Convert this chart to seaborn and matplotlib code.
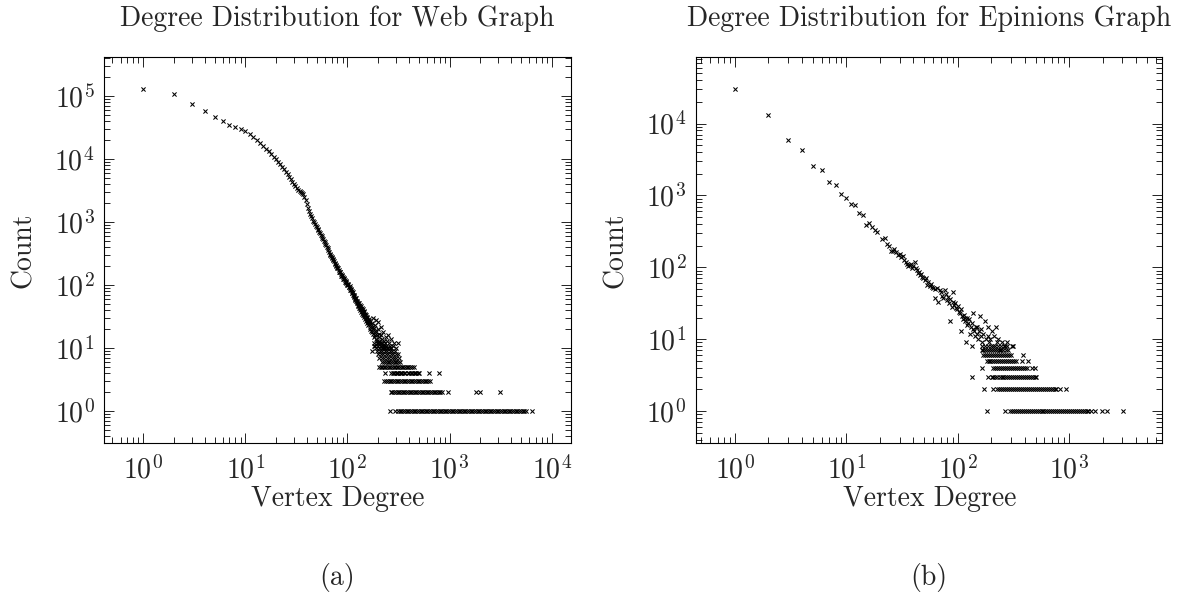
import numpy as np
import pandas as pd
import matplotlib
matplotlib.use("Agg")
import matplotlib.pyplot as plt
from matplotlib.ticker import LogLocator, LogFormatterMathtext, NullFormatter
import seaborn as sns

# --- Web graph: degree -> count ---
web_head_deg = [1, 2, 3, 4, 5, 6, 7, 8, 9, 10, 11, 12, 13, 14, 15, 16]
web_head_cnt = [131000, 110000, 74700, 57800, 47600, 40100, 34700, 32700,
                30400, 27600, 25300, 22700, 20400, 18200, 16500, 14800]

web_curve_deg = [17, 18, 19, 20, 21, 22, 23, 24, 25, 26, 27, 28, 29, 30, 31, 32,
                 33, 34, 35, 36, 37, 38, 39, 40, 41, 42, 43, 44, 45, 46, 47, 48,
                 49, 50, 51, 52, 53, 54, 55, 56, 57, 58, 59, 60, 61, 62, 63, 64,
                 65, 66, 67, 68, 69, 70, 71, 72, 73, 74, 75, 76, 77, 78, 79, 80,
                 82, 84, 86, 88, 90, 92, 94, 96, 98, 100, 102, 104, 106, 108, 110,
                 112, 114, 116, 118, 120, 122, 124, 126, 128, 130, 133, 136, 139,
                 142, 145, 148, 151, 155, 159]
web_curve_cnt = [13300, 12000, 10900, 10100, 9200, 8300, 7600, 6900, 6250, 5750,
                 5250, 4850, 4400, 4050, 3750, 3480, 3250, 3100, 2980, 2900, 2780,
                 2500, 2230, 1920, 1670, 1490, 1370, 1240, 1150, 1060, 990, 940,
                 880, 835, 790, 745, 705, 665, 630, 600, 565, 540, 510, 480, 455,
                 428, 410, 385, 360, 342, 318, 305, 292, 280, 268, 258, 250, 238,
                 229, 218, 210, 203, 196, 188, 172, 160, 151, 141, 134, 127, 120,
                 114, 109, 103, 99, 94, 89, 84, 80, 75, 71, 68, 63, 60, 57, 54, 52,
                 49, 47, 44, 42, 39, 37, 34, 33, 31, 28, 26]

web_spread_deg = [81, 83, 85, 87, 89, 91, 93, 95, 97, 99, 101, 103, 105, 107, 109,
                  111, 113, 115, 117, 119, 121, 123, 125, 127, 129, 131, 132, 134,
                  135, 137, 138, 140, 141, 143, 144, 146, 147, 149, 150, 152, 153,
                  154, 156, 157, 158, 160]
web_spread_cnt = [186, 160, 162, 140, 143, 126, 128, 113, 116, 101, 106, 92, 96,
                  83, 86, 74, 78, 66, 71, 58, 63, 52, 57, 47, 52, 43, 49, 40, 46,
                  38, 44, 35, 42, 33, 39, 31, 37, 29, 35, 27, 33, 30, 25, 31, 27, 23]

web_tail_deg = [161, 162, 164, 165, 167, 168, 170, 171, 173, 175, 176, 178, 180,
                181, 183, 185, 186, 188, 190, 192, 194, 196, 198, 200, 202, 204,
                206, 209, 211, 214, 217, 220, 223, 226, 229, 232, 236, 240, 245,
                250, 256, 262, 270, 285, 200, 190, 180, 212, 225, 238, 250, 265,
                280, 300, 310, 176, 181]
web_tail_cnt = [29, 24, 27, 22, 26, 20, 24, 19, 22, 18, 25, 20, 17, 21, 15, 19,
                23, 16, 14, 18, 13, 16, 20, 12, 15, 17, 13, 12, 16, 11, 14, 12, 10,
                13, 11, 12, 10, 11, 13, 10, 12, 11, 10, 12, 26, 28, 30, 22, 18, 15,
                16, 14, 11, 10, 12, 9, 11]

# low-count rows of the web graph (all points share one count)
web_row12 = [184, 196, 208, 220]
web_row11 = [188, 199, 211, 224, 238]
web_row10 = [192, 204, 216, 229, 243, 262]
web_row9 = [196, 208, 220, 233, 246, 260, 275, 292]
web_row8 = [200, 212, 225, 238, 252, 266, 281, 297, 313]
web_row7 = [206, 218, 230, 243, 257, 271, 286, 302, 318]
web_row6 = [220, 229, 238, 248, 258, 268, 279, 290, 302, 315, 330]
web_row5 = [205, 212, 220, 228, 236, 245, 254, 263, 273, 283, 294, 305, 316,
            328, 340, 353, 366, 380, 395, 410, 427, 445]
web_row4 = [232, 270, 278, 287, 296, 305, 315, 325, 335, 345, 355, 364, 392,
            405, 418, 432, 446, 460, 475, 490, 500, 633, 785]
web_row3 = [230, 240, 250, 260, 270, 281, 292, 304, 316, 329, 342, 356, 370,
            385, 400, 416, 433, 450, 468, 487, 506, 526, 547, 569, 592, 616, 640]
web_row2 = [265, 276, 287, 298, 310, 322, 335, 348, 362, 376, 391, 406, 422,
            439, 456, 474, 493, 512, 532, 553, 575, 598, 621, 645, 670, 697,
            724, 752, 782, 812, 844, 960, 1820, 1980, 3150]
web_row1 = [260, 293, 312, 325, 338, 352, 366, 381, 396, 412, 428, 445, 463,
            481, 500, 520, 541, 562, 585, 608, 632, 657, 683, 710, 738, 768,
            798, 830, 863, 897, 933, 970, 1009, 1049, 1091, 1134, 1179, 1226,
            1275, 1326, 1379, 1434, 1491, 1550, 1612, 1676, 1743, 1812, 1884,
            1959, 2037, 2118, 2202, 2290, 2381, 2476, 2574, 2676, 2783, 2893,
            3008, 3128, 3252, 3381, 3515, 3655, 3800, 3951, 4108, 4271, 4441,
            4617, 4800, 4991, 5189, 5395, 5600, 6400]

# --- Epinions graph ---
epi_head_deg = [1, 2, 3, 4, 5, 6, 7, 8, 9, 10, 11, 12, 13, 14, 15, 16]
epi_head_cnt = [30300, 13300, 5970, 4240, 2590, 2280, 1540, 1410, 1030, 908,
                766, 742, 561, 533, 387, 417]

epi_mid_deg = [17, 18, 19, 21, 22, 23, 25, 26, 28, 29, 31, 32, 24, 27, 30, 33,
               34, 36, 37, 39, 40, 41, 43, 35, 38, 42, 44, 45, 46, 47, 48, 49,
               51, 52, 53, 54, 56, 58, 59, 60, 62, 63, 65, 67, 69, 70, 72, 74,
               77, 78, 80, 82, 84, 85, 86, 88, 90, 91, 93, 94, 96, 98, 100, 102,
               105, 107, 108, 110, 111, 113, 115, 117, 119, 120, 122, 124, 126,
               129, 131, 133, 134, 136, 138, 140, 143, 145, 148, 150, 153, 155,
               158, 160, 162, 166, 170, 175, 178, 185, 188, 192, 195, 201, 208,
               212, 220, 223, 230, 239, 248, 265, 275, 305]
epi_mid_cnt = [363, 326, 305, 247, 252, 214, 171, 166, 163, 149, 141, 145, 198,
               180, 155, 128, 120, 103, 108, 97, 103, 117, 92, 112, 110, 99, 84,
               87, 79, 82, 74, 70, 67, 71, 57, 63, 55, 58, 54, 51, 50, 38, 51, 33,
               49, 45, 40, 37, 49, 42, 35, 39, 32, 18, 36, 28, 33, 46, 30, 32, 27,
               26, 29, 24, 23, 26, 13, 21, 19, 22, 20, 18, 9, 20, 16, 17, 19, 12,
               15, 8, 17, 14, 23, 13, 11, 15, 15, 12, 10, 13, 21, 11, 14, 9, 12,
               18, 10, 15, 11, 9, 10, 13, 8, 11, 15, 9, 10, 7, 9, 8, 9, 8]

epi_row8 = [164, 175, 186, 200, 214, 228, 245, 262, 278, 310]
epi_row7 = [164, 170, 177, 184, 192, 200, 208, 217, 226, 236, 246, 257, 270, 285]
epi_row6 = [169, 176, 183, 191, 199, 207, 216, 225, 234, 244, 254, 265, 276,
            286, 302, 386]
epi_row5 = [182, 189, 196, 204, 212, 221, 230, 240, 250, 260, 271, 282, 294,
            306, 320, 336, 380, 430]
epi_row4 = [164, 208, 216, 225, 234, 244, 254, 265, 276, 288, 300, 313, 326,
            340, 355, 370, 386, 402, 418, 462, 496]
epi_row3 = [133, 188, 201, 209, 218, 227, 237, 247, 257, 268, 279, 291, 303,
            316, 329, 343, 357, 372, 388, 404, 421, 439, 458, 477, 497, 508]
epi_row2 = [173, 206, 226, 235, 245, 255, 266, 277, 289, 301, 314, 327, 341,
            355, 370, 386, 402, 419, 437, 455, 474, 494, 515, 537, 560, 583,
            608, 634, 660, 688, 717, 747, 766, 826, 935]
epi_row1 = [182, 265, 294, 306, 319, 332, 346, 360, 375, 391, 407, 424, 442,
            460, 479, 499, 520, 542, 565, 588, 613, 638, 665, 693, 722, 752,
            783, 816, 850, 885, 922, 960, 1000, 1042, 1085, 1130, 1177, 1226,
            1277, 1330, 1385, 1443, 1490, 1560, 1720, 1970, 2180, 3070]


def build_frame(pairs, rows):
    deg, cnt = [], []
    for d, c in pairs:
        deg += list(d)
        cnt += list(c)
    for c, d in rows:
        deg += list(d)
        cnt += [c] * len(d)
    return pd.DataFrame({"degree": deg, "count": cnt})


web = build_frame(
    [(web_head_deg, web_head_cnt), (web_curve_deg, web_curve_cnt),
     (web_spread_deg, web_spread_cnt), (web_tail_deg, web_tail_cnt)],
    [(12, web_row12), (11, web_row11), (10, web_row10), (9, web_row9),
     (8, web_row8), (7, web_row7), (6, web_row6), (5, web_row5),
     (4, web_row4), (3, web_row3), (2, web_row2), (1, web_row1)])

epi = build_frame(
    [(epi_head_deg, epi_head_cnt), (epi_mid_deg, epi_mid_cnt)],
    [(8, epi_row8), (7, epi_row7), (6, epi_row6), (5, epi_row5),
     (4, epi_row4), (3, epi_row3), (2, epi_row2), (1, epi_row1)])

sns.set_theme(style="ticks")
plt.rcParams["font.family"] = ["cmr10"]
plt.rcParams["mathtext.fontset"] = "cm"
plt.rcParams["axes.unicode_minus"] = False
plt.rcParams["axes.formatter.use_mathtext"] = True


def log_limits(values):
    lo, hi = np.log10(values.min()), np.log10(values.max())
    pad = 0.1 * (hi - lo)
    return 10 ** (lo - pad), 10 ** (hi + pad)


def draw_panel(ax, df, title):
    sns.scatterplot(data=df, x="degree", y="count", marker="x", color="black",
                    s=9, linewidth=0.75, legend=False, ax=ax)
    ax.set_xscale("log")
    ax.set_yscale("log")
    ax.set_xlim(*log_limits(df["degree"]))
    ax.set_ylim(*log_limits(df["count"]))
    for axis in (ax.xaxis, ax.yaxis):
        axis.set_major_locator(LogLocator(base=10, numticks=20))
        axis.set_minor_locator(LogLocator(base=10, subs=np.arange(2, 10), numticks=20))
        axis.set_major_formatter(LogFormatterMathtext())
        axis.set_minor_formatter(NullFormatter())
    ax.tick_params(which="both", direction="in", top=True, right=True,
                   width=0.6, color="black", labelsize=20)
    ax.tick_params(which="major", length=7.2)
    ax.tick_params(which="minor", length=4.3)
    ax.tick_params(axis="x", pad=9)
    ax.tick_params(axis="y", pad=7)
    for sp in ax.spines.values():
        sp.set_visible(True)
        sp.set_linewidth(0.8)
        sp.set_color("black")
    ax.set_xlabel("Vertex Degree", fontsize=20)
    ax.set_ylabel("Count", fontsize=20)
    ax.xaxis.set_label_coords(0.5, -0.11)
    ax.yaxis.set_label_coords(-0.145, 0.5)
    ax.set_title(title, fontsize=20, pad=22)


fig = plt.figure(figsize=(11.86, 6.13), dpi=100)
fig.patch.set_facecolor("white")
ax1 = fig.add_axes([104.3 / 1186, 169.7 / 613, 466.4 / 1186, 386.6 / 613])
ax2 = fig.add_axes([696.1 / 1186, 169.7 / 613, 466.2 / 1186, 386.6 / 613])

draw_panel(ax1, web, "Degree Distribution for Web Graph")
draw_panel(ax2, epi, "Degree Distribution for Epinions Graph")

fig.text(337.5 / 1186, 1 - 578 / 613, "(a)", ha="center", va="center", fontsize=20)
fig.text(929.2 / 1186, 1 - 578 / 613, "(b)", ha="center", va="center", fontsize=20)

fig.savefig("out.png", dpi=100, facecolor="white")
